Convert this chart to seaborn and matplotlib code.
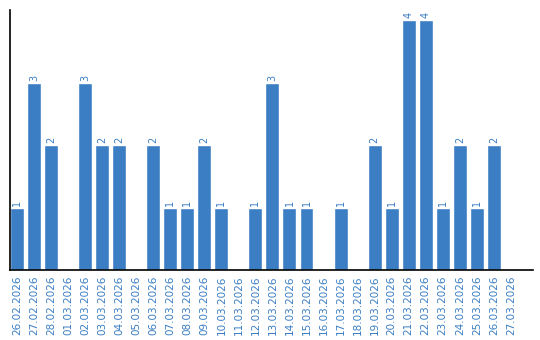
import matplotlib
matplotlib.use("Agg")
import matplotlib.pyplot as plt
import seaborn as sns
import pandas as pd

dates = ["26.02.2026", "27.02.2026", "28.02.2026", "01.03.2026", "02.03.2026",
         "03.03.2026", "04.03.2026", "05.03.2026", "06.03.2026", "07.03.2026",
         "08.03.2026", "09.03.2026", "10.03.2026", "11.03.2026", "12.03.2026",
         "13.03.2026", "14.03.2026", "15.03.2026", "16.03.2026", "17.03.2026",
         "18.03.2026", "19.03.2026", "20.03.2026", "21.03.2026", "22.03.2026",
         "23.03.2026", "24.03.2026", "25.03.2026", "26.03.2026", "27.03.2026"]
counts = [1, 3, 2, 0, 3, 2, 2, 0, 2, 1,
          1, 2, 1, 0, 1, 3, 1, 1, 0, 1,
          0, 2, 1, 4, 4, 1, 2, 1, 2, 0]

sns.set_style("white")
plt.rcParams['font.family'] = ['DejaVu Sans']

blue = "#3b7ec3"
df = pd.DataFrame({"date": dates, "count": counts})

fig = plt.figure(figsize=(5.4, 3.4), dpi=100)
ax = fig.add_axes([10/540, 70/340, 523/540, 260/340])
sns.barplot(data=df, x="date", y="count", color=blue, width=0.82,
            saturation=1, ax=ax, order=dates)

for i, v in enumerate(counts):
    if v > 0:
        ax.text(i, v + 0.03, str(v), rotation=90, ha="center", va="bottom",
                color=blue, fontsize=7)

ax.set_xlim(-0.41, 30.3)
ax.set_ylim(0, 4.16)
ax.set_xlabel("")
ax.set_ylabel("")
ax.set_yticks([])
ax.tick_params(axis="x", length=0, pad=4, labelsize=7.5, labelcolor=blue,
               labelrotation=90)
for s in ["top", "right"]:
    ax.spines[s].set_visible(False)
for s in ["left", "bottom"]:
    ax.spines[s].set_color("black")
    ax.spines[s].set_linewidth(1.2)

fig.savefig("out.png", dpi=100)
